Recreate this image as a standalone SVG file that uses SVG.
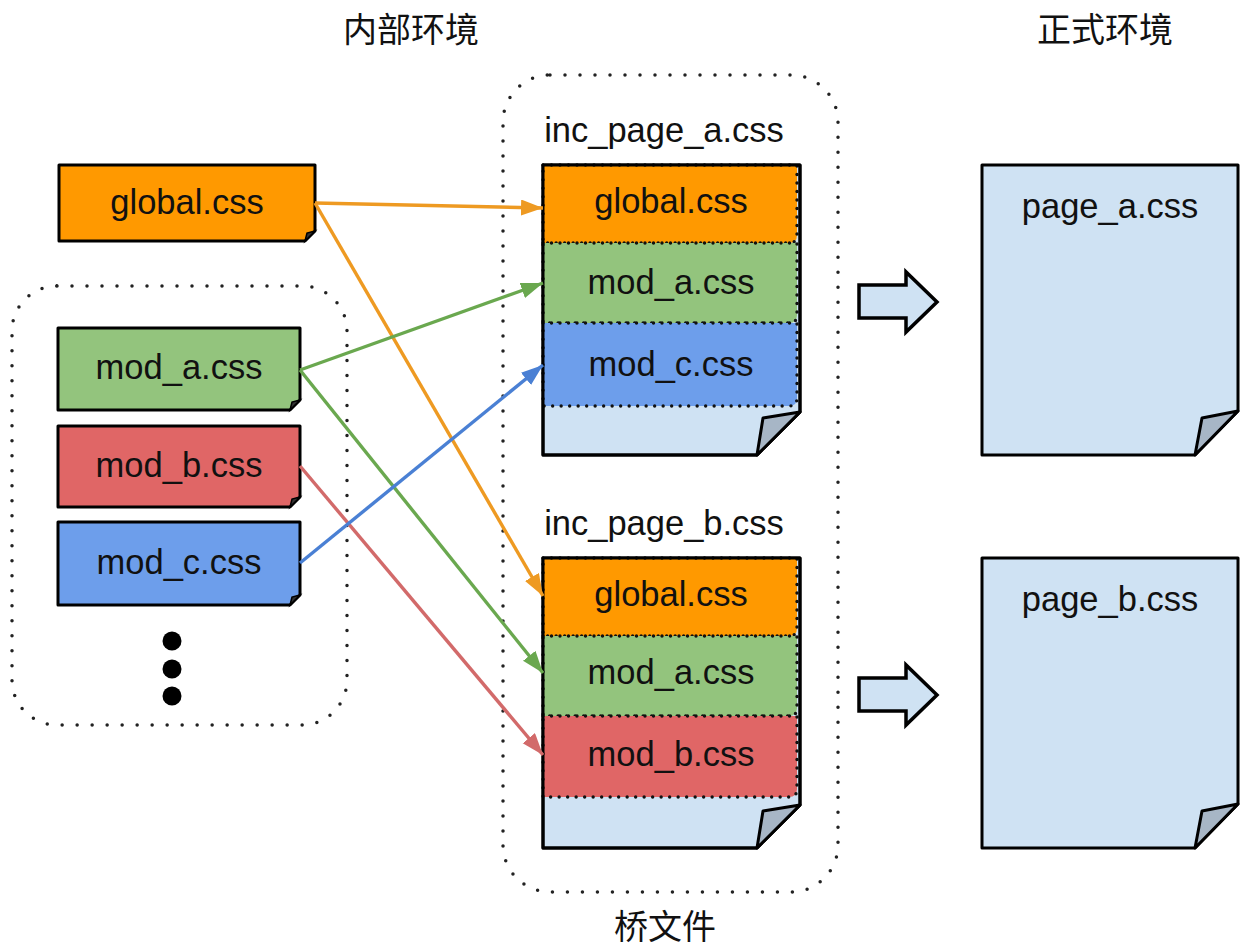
<svg xmlns="http://www.w3.org/2000/svg" width="1244" height="951" viewBox="0 0 1244 951">
<style>
.t{font-family:"Liberation Sans",Arial,sans-serif;font-size:34.5px;fill:#111;text-anchor:middle}
.cj{font-family:"Noto Sans CJK SC",sans-serif;font-size:34px;fill:#111;text-anchor:middle}
.cont{fill:none;stroke:#222;stroke-width:3.5;stroke-dasharray:0 15;stroke-linecap:round}
.node{stroke:#000;stroke-width:3;stroke-linejoin:round}
.fold{fill:#333;stroke:#000;stroke-width:1.5}
.sec{stroke:#111;stroke-width:3.4;stroke-dasharray:0 8.5;stroke-linecap:round}
.page{fill:#cfe2f3;stroke:#000;stroke-width:3;stroke-linejoin:round}
.pfold{fill:#a7b6c6;stroke:#000;stroke-width:3;stroke-linejoin:round}
.or{fill:#ff9900}.gr{fill:#93c47d}.rd{fill:#e06666}.bl{fill:#6d9eeb}
.ln{fill:none;stroke-width:3.4}
.bigarrow{fill:#cfe2f3;stroke:#000;stroke-width:3.5;stroke-linejoin:miter}
</style>
<defs>
<marker id="mo" markerUnits="userSpaceOnUse" markerWidth="24" markerHeight="18" refX="22" refY="8" orient="auto"><path d="M0,0 L22,8 L0,16 Z" fill="#ee9a22"/></marker>
<marker id="mg" markerUnits="userSpaceOnUse" markerWidth="24" markerHeight="18" refX="22" refY="8" orient="auto"><path d="M0,0 L22,8 L0,16 Z" fill="#6aa84f"/></marker>
<marker id="mr" markerUnits="userSpaceOnUse" markerWidth="24" markerHeight="18" refX="22" refY="8" orient="auto"><path d="M0,0 L22,8 L0,16 Z" fill="#d26a6a"/></marker>
<marker id="mb" markerUnits="userSpaceOnUse" markerWidth="24" markerHeight="18" refX="22" refY="8" orient="auto"><path d="M0,0 L22,8 L0,16 Z" fill="#4a80d4"/></marker>
</defs>

<g id="titles">
<text class="cj" x="411" y="42">内部环境</text>
<text class="cj" x="1105" y="42">正式环境</text>
<text class="cj" x="665" y="939" font-size="33">桥文件</text>
</g>

<g id="containers">
<rect class="cont" x="12" y="286" width="335" height="439" rx="45"/>
<rect class="cont" x="503" y="75" width="335" height="817" rx="47"/>
</g>

<g id="node-global">
<path class="node or" d="M59,165 H315 V231 L305,241 H59 Z"/>
<path class="fold" d="M305,241 L307,233 L315,231 Z"/>
<text class="t" x="187" y="214">global.css</text>
</g>
<g id="node-mod_a">
<path class="node gr" d="M58,328 H300 V400 L290,410 H58 Z"/>
<path class="fold" d="M290,410 L292,402 L300,400 Z"/>
<text class="t" x="179" y="379">mod_a.css</text>
</g>
<g id="node-mod_b">
<path class="node rd" d="M58,426 H300 V497 L290,507 H58 Z"/>
<path class="fold" d="M290,507 L292,499 L300,497 Z"/>
<text class="t" x="179" y="477">mod_b.css</text>
</g>
<g id="node-mod_c">
<path class="node bl" d="M58,522 H300 V595 L290,605 H58 Z"/>
<path class="fold" d="M290,605 L292,597 L300,595 Z"/>
<text class="t" x="179" y="574">mod_c.css</text>
</g>
<g id="more">
<circle cx="172" cy="641" r="9.5" fill="#000"/>
<circle cx="172" cy="669" r="9.5" fill="#000"/>
<circle cx="172" cy="696" r="9.5" fill="#000"/>
</g>

<g id="inc_page_a">
<text class="t" x="664" y="142">inc_page_a.css</text>
<g transform="translate(543,165)">
<path class="page" d="M0,0 H257 V247 L214,290 H0 Z"/>
<path class="sec or" d="M0,0 H254 V70 Q254,78 246,78 H0 Z"/>
<text class="t" x="128" y="48">global.css</text>
<path class="sec gr" d="M0,78 H254 V150 Q254,158 246,158 H0 Z"/>
<text class="t" x="128" y="129">mod_a.css</text>
<path class="sec bl" d="M0,158 H254 V233 Q254,241 246,241 H0 Z"/>
<text class="t" x="128" y="211">mod_c.css</text>
<path fill="none" stroke="#000" stroke-width="3" stroke-linejoin="round" d="M0,0 H257 V247 L214,290 H0 Z"/>
<path class="pfold" d="M214,290 L220,253 L257,247 Z"/>
</g>
</g>

<g id="inc_page_b">
<text class="t" x="664" y="535">inc_page_b.css</text>
<g transform="translate(543,558)">
<path class="page" d="M0,0 H257 V247 L214,290 H0 Z"/>
<path class="sec or" d="M0,0 H254 V70 Q254,78 246,78 H0 Z"/>
<text class="t" x="128" y="48">global.css</text>
<path class="sec gr" d="M0,78 H254 V150 Q254,158 246,158 H0 Z"/>
<text class="t" x="128" y="126">mod_a.css</text>
<path class="sec rd" d="M0,158 H254 V231 Q254,239 246,239 H0 Z"/>
<text class="t" x="128" y="208">mod_b.css</text>
<path fill="none" stroke="#000" stroke-width="3" stroke-linejoin="round" d="M0,0 H257 V247 L214,290 H0 Z"/>
<path class="pfold" d="M214,290 L220,253 L257,247 Z"/>
</g>
</g>

<g id="page_a">
<g transform="translate(982,165)">
<path class="page" d="M0,0 H256 V246 L213,290 H0 Z"/>
<path class="pfold" d="M213,290 L220,253 L256,246 Z"/>
<text class="t" x="128" y="53">page_a.css</text>
</g>
</g>
<g id="page_b">
<g transform="translate(982,558)">
<path class="page" d="M0,0 H256 V246 L213,290 H0 Z"/>
<path class="pfold" d="M213,290 L220,253 L256,246 Z"/>
<text class="t" x="128" y="53">page_b.css</text>
</g>
</g>

<g id="arrow-a">
<path class="bigarrow" d="M859,285 H906 V272 L937,302 L906,332 V318 H859 Z"/>
</g>
<g id="arrow-b">
<path class="bigarrow" d="M859,678 H906 V665 L937,695 L906,725 V711 H859 Z"/>
</g>

<g id="connectors">
<path class="ln" stroke="#ee9a22" marker-end="url(#mo)" d="M315,203 L543,208"/>
<path class="ln" stroke="#ee9a22" marker-end="url(#mo)" d="M315,203 L543,596"/>
<path class="ln" stroke="#6aa84f" marker-end="url(#mg)" d="M300,370 L543,283"/>
<path class="ln" stroke="#6aa84f" marker-end="url(#mg)" d="M300,370 L543,673"/>
<path class="ln" stroke="#d26a6a" marker-end="url(#mr)" d="M300,466 L543,755"/>
<path class="ln" stroke="#4a80d4" marker-end="url(#mb)" d="M300,563 L543,365"/>
</g>
</svg>
